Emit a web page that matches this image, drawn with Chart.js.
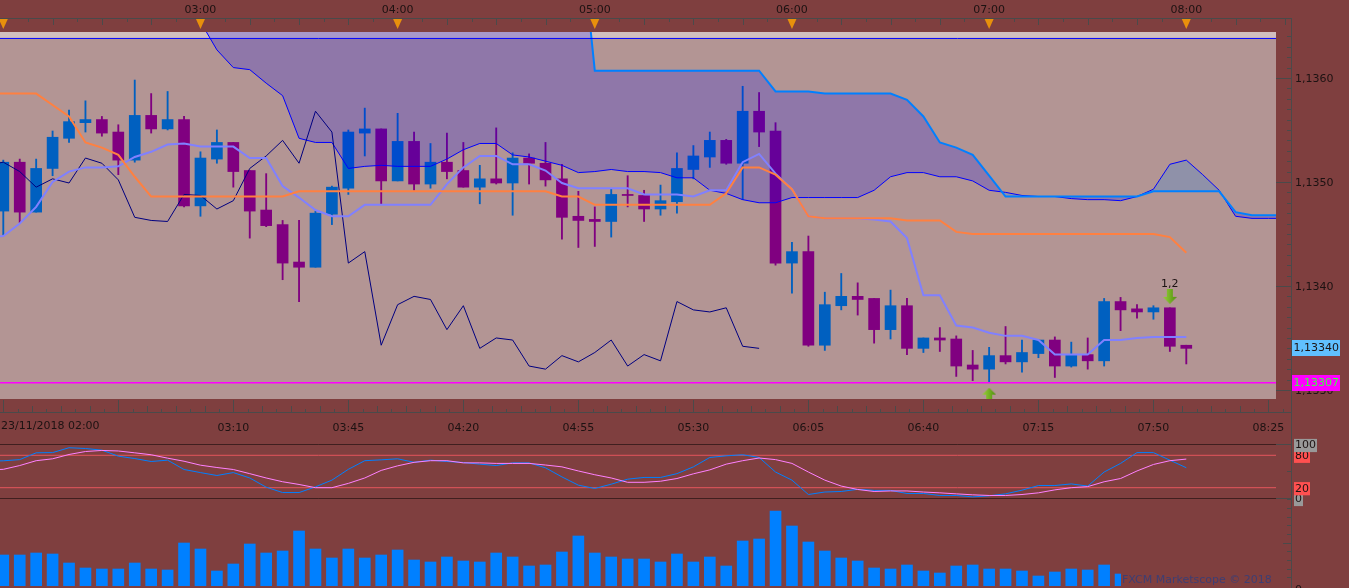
<!DOCTYPE html>
<html><head><meta charset="utf-8">
<style>
html,body{margin:0;padding:0;background:#7f3f3f;overflow:hidden;width:1349px;height:588px}
canvas{position:absolute;left:0;display:block}
</style>
<script src="https://cdn.jsdelivr.net/npm/chart.js@4"></script>
</head><body>
<canvas id="vol" width="1349" height="90" style="top:498px"></canvas>
<canvas id="main" width="1349" height="438" style="top:0"></canvas>
<canvas id="sto" width="1349" height="72" style="top:438px"></canvas>
<script>
const openPrice=[1.13472,1.13519,1.13471,1.13513,1.13542,1.13557,1.13560,1.13548,1.13521,1.13564,1.13551,1.13560,1.13477,1.13522,1.13538,1.13511,1.13473,1.13459,1.13423,1.13418,1.13469,1.13494,1.13547,1.13551,1.13501,1.13539,1.13498,1.13519,1.13511,1.13495,1.13503,1.13499,1.13523,1.13518,1.13503,1.13467,1.13464,1.13462,1.13488,1.13487,1.13474,1.13481,1.13512,1.13524,1.13540,1.13518,1.13568,1.13549,1.13422,1.13433,1.13343,1.13381,1.13390,1.13388,1.13358,1.13381,1.13340,1.13350,1.13349,1.13324,1.13320,1.13333,1.13327,1.13335,1.13348,1.13323,1.13334,1.13328,1.13385,1.13378,1.13375,1.13379,1.13343];
const highPrice=[1.13521,1.13522,1.13522,1.13549,1.13569,1.13578,1.13563,1.13555,1.13598,1.13585,1.13587,1.13563,1.13529,1.13550,1.13538,1.13511,1.13508,1.13463,1.13463,1.13472,1.13496,1.13550,1.13571,1.13551,1.13566,1.13548,1.13537,1.13547,1.13538,1.13516,1.13552,1.13528,1.13527,1.13538,1.13517,1.13491,1.13476,1.13493,1.13506,1.13492,1.13497,1.13528,1.13535,1.13548,1.13541,1.13592,1.13586,1.13557,1.13442,1.13448,1.13394,1.13412,1.13403,1.13388,1.13396,1.13388,1.13350,1.13360,1.13352,1.13338,1.13341,1.13361,1.13348,1.13348,1.13351,1.13346,1.13350,1.13388,1.13389,1.13382,1.13381,1.13379,1.13343];
const lowPrice=[1.13449,1.13461,1.13471,1.13506,1.13538,1.13548,1.13544,1.13507,1.13519,1.13547,1.13550,1.13476,1.13467,1.13518,1.13495,1.13446,1.13457,1.13406,1.13385,1.13418,1.13459,1.13488,1.13525,1.13479,1.13501,1.13492,1.13494,1.13503,1.13495,1.13479,1.13498,1.13468,1.13498,1.13496,1.13445,1.13437,1.13438,1.13447,1.13476,1.13462,1.13468,1.13470,1.13503,1.13514,1.13517,1.13483,1.13534,1.13420,1.13393,1.13342,1.13338,1.13377,1.13372,1.13345,1.13349,1.13334,1.13336,1.13337,1.13313,1.13309,1.13308,1.13325,1.13317,1.13331,1.13312,1.13322,1.13320,1.13323,1.13357,1.13369,1.13368,1.13337,1.13325];
const closePrice=[1.13519,1.13471,1.13513,1.13543,1.13558,1.13560,1.13547,1.13521,1.13564,1.13551,1.13560,1.13477,1.13523,1.13538,1.13510,1.13472,1.13458,1.13422,1.13418,1.13470,1.13495,1.13548,1.13551,1.13501,1.13539,1.13498,1.13519,1.13510,1.13495,1.13503,1.13499,1.13523,1.13518,1.13502,1.13466,1.13463,1.13462,1.13488,1.13487,1.13474,1.13482,1.13513,1.13525,1.13540,1.13518,1.13568,1.13548,1.13422,1.13433,1.13343,1.13382,1.13390,1.13387,1.13358,1.13381,1.13340,1.13350,1.13348,1.13323,1.13320,1.13333,1.13327,1.13336,1.13348,1.13323,1.13334,1.13328,1.13385,1.13377,1.13375,1.13379,1.13342,1.13340];
const lineStart=-1;
const kijun=[1.13585,1.13585,1.13585,1.13585,1.13574,1.13563,1.13538,1.13533,1.13526,1.13505,1.13486,1.13486,1.13486,1.13486,1.13486,1.13486,1.13486,1.13486,1.13486,1.13491,1.13491,1.13491,1.13491,1.13491,1.13491,1.13491,1.13491,1.13491,1.13491,1.13491,1.13491,1.13491,1.13491,1.13491,1.13491,1.13486,1.13486,1.13478,1.13478,1.13478,1.13478,1.13478,1.13478,1.13478,1.13478,1.13489,1.13514,1.13514,1.13507,1.13493,1.13467,1.13465,1.13465,1.13465,1.13465,1.13465,1.13463,1.13463,1.13463,1.13452,1.13450,1.13450,1.13450,1.13450,1.13450,1.13450,1.13450,1.13450,1.13450,1.13450,1.13450,1.13450,1.13447,1.13432];
const tenkan=[1.13447,1.13448,1.13460,1.13476,1.13500,1.13510,1.13514,1.13514,1.13515,1.13524,1.13529,1.13536,1.13537,1.13534,1.13534,1.13534,1.13523,1.13523,1.13496,1.13485,1.13473,1.13467,1.13467,1.13478,1.13478,1.13478,1.13478,1.13478,1.13498,1.13514,1.13525,1.13525,1.13517,1.13517,1.13511,1.13499,1.13494,1.13494,1.13494,1.13494,1.13488,1.13488,1.13488,1.13486,1.13492,1.13492,1.13519,1.13527,1.13508,1.13493,1.13467,1.13465,1.13465,1.13465,1.13464,1.13462,1.13446,1.13391,1.13391,1.13362,1.13360,1.13355,1.13352,1.13352,1.13348,1.13334,1.13334,1.13334,1.13348,1.13348,1.13350,1.13351,1.13351,1.13351];
const chikou=[1.13516,1.13519,1.13510,1.13495,1.13503,1.13499,1.13523,1.13518,1.13502,1.13466,1.13463,1.13462,1.13488,1.13487,1.13474,1.13482,1.13513,1.13525,1.13540,1.13518,1.13568,1.13548,1.13422,1.13433,1.13343,1.13382,1.13390,1.13387,1.13358,1.13381,1.13340,1.13350,1.13348,1.13323,1.13320,1.13333,1.13327,1.13336,1.13348,1.13323,1.13334,1.13328,1.13385,1.13377,1.13375,1.13379,1.13342,1.13340];
const senkouStart=12;
const senkouA=[1.13654,1.13627,1.13610,1.13608,1.13595,1.13583,1.13542,1.13538,1.13538,1.13513,1.13515,1.13516,1.13515,1.13515,1.13515,1.13522,1.13531,1.13537,1.13537,1.13526,1.13524,1.13520,1.13516,1.13509,1.13510,1.13512,1.13510,1.13510,1.13509,1.13504,1.13504,1.13492,1.13489,1.13483,1.13480,1.13480,1.13485,1.13485,1.13485,1.13485,1.13485,1.13492,1.13505,1.13509,1.13509,1.13505,1.13505,1.13501,1.13492,1.13490,1.13487,1.13486,1.13486,1.13484,1.13483,1.13483,1.13482,1.13486,1.13493,1.13517,1.13521,1.13507,1.13492,1.13467,1.13465,1.13465,1.13465];
const senkouB=[1.13761,1.13761,1.13761,1.13761,1.13761,1.13761,1.13761,1.13761,1.13761,1.13761,1.13761,1.13761,1.13761,1.13761,1.13761,1.13761,1.13761,1.13761,1.13761,1.13761,1.13761,1.13761,1.13761,1.13761,1.13607,1.13607,1.13607,1.13607,1.13607,1.13607,1.13607,1.13607,1.13607,1.13607,1.13607,1.13587,1.13587,1.13587,1.13585,1.13585,1.13585,1.13585,1.13585,1.13579,1.13563,1.13538,1.13533,1.13526,1.13506,1.13486,1.13486,1.13486,1.13486,1.13486,1.13486,1.13486,1.13486,1.13486,1.13491,1.13491,1.13491,1.13491,1.13491,1.13471,1.13468,1.13468,1.13468];
const stochK=[69,69.8,72,84.6,85,94,92.6,89.5,78.4,74,68.5,71,53.7,48,42.6,48,38,21,11,11,21.6,34,54,70,71.6,73.5,67,71,68.5,66.7,63.6,61,66,66,56.8,40,24.7,18.5,26.5,35.8,39,39,46,58.6,76,79,81,76,49,34,7.4,12,13,17,15,15,9.3,9.3,5.6,5.6,3,5,8.6,15.4,24,24,27,23,49,65,85,85,71,57];
const stochD=[53,54,61,70,73.5,81.5,87,89,88,84.6,81,74.7,69,61.7,57.4,53.7,46,38,31,26,20,20,28,38,52,60.5,67,70,70,66,66,65,65,65,62,58.6,51,44,38,30,30,32,37,45.7,53,63.6,70,75,72,65,49,34,23,16.7,13,14,14,12,10.5,8.6,6.8,5.6,5.6,7.4,10.5,16,20,22,31,37,51,63,70,73];
const volume=[93,93,99,96,69,54,51,51,69,51,48,129,111,45,66,126,99,105,165,111,84,111,84,93,108,78,72,87,75,72,99,87,60,63,102,150,99,87,81,81,72,96,72,87,60,135,141,225,180,132,105,84,75,54,51,63,45,39,60,63,51,51,45,30,42,51,48,63,36];
const hourTicks=[12,24,36,48,60,72];
const hourLabels=["03:00","04:00","05:00","06:00","07:00","08:00"];
const timeTicks=[14,21,28,35,42,49,56,63,70,77];
const timeLabels=["03:10","03:45","04:20","04:55","05:30","06:05","06:40","07:15","07:50","08:25"];
const firstLabel="23/11/2018 02:00";
const priceTicks=[1.133,1.134,1.135,1.136];
const stochTicks=[0,20,80,100];
const topLine=1.13638, levelLine=1.13307;
const downSignal={i:71,price:1.13390,label:"1,2",labelPrice:1.13402};
const upSignal={i:60,price:1.13295};
const watermark="FXCM Marketscope \u00a9 2018";

const FONT='"DejaVu Sans"';
Chart.defaults.font.family=FONT; Chart.defaults.font.size=11; Chart.defaults.color='#1c1212';
Chart.defaults.devicePixelRatio=1;
const BG='#7f3f3f',PLOT='#b39594',AXIS='#4a4a4a',TEXT='#1c1212';
const XMIN=-0.2009,XMAX=77.46;
const xy=(arr,start=0)=>arr.map((y,k)=>({x:k+start,y}));
const bars=(a,b)=>a.map((v,i)=>({x:i,y:[v,b[i]]}));
const upDown=openPrice.map((o,i)=>closePrice[i]>=o?'#0060c0':'#800080');
const hl=v=>[{x:-2,y:v},{x:80,y:v}];
const line=(o)=>Object.assign({type:'line',pointRadius:0,tension:0,fill:false,borderJoinStyle:'miter'},o);
const base={responsive:false,animation:false,events:[],plugins:{legend:{display:false},tooltip:{enabled:false}}};
const noGrid={display:false,drawTicks:false,offset:false};
const xHidden=()=>({type:'linear',offset:false,min:XMIN,max:XMAX,display:false});
const flat=s=>{s.paddingLeft=s.paddingRight=s.paddingTop=s.paddingBottom=0;};

function seg(c,x1,y1,x2,y2){c.beginPath();c.moveTo(x1,y1);c.lineTo(x2,y2);c.stroke();}
function px(v){return Math.round(v)+.5;}
function arrowCanvas(down){
  const cv=document.createElement('canvas');cv.width=14;cv.height=15;
  const c=cv.getContext('2d');
  const g=c.createLinearGradient(0,0,14,0);g.addColorStop(0,'#9ad23a');g.addColorStop(1,'#4f8f10');
  c.fillStyle=g;c.beginPath();
  if(down){c.moveTo(4,0);c.lineTo(10,0);c.lineTo(10,8);c.lineTo(14,8);c.lineTo(7,15);c.lineTo(0,8);c.lineTo(4,8);}
  else{c.moveTo(7,0);c.lineTo(14,7);c.lineTo(10,7);c.lineTo(10,15);c.lineTo(4,15);c.lineTo(4,7);c.lineTo(0,7);}
  c.closePath();c.fill();return cv;
}

const plotBg={id:'plotBg',beforeDatasetsDraw(ch){const a=ch.chartArea,c=ch.ctx;c.save();c.fillStyle=PLOT;c.fillRect(a.left,a.top,a.width,a.height);c.restore();}};

const mainChrome={id:'mainChrome',afterDraw(ch){
  const c=ch.ctx,top=ch.scales.xTop,bot=ch.scales.x,y=ch.scales.y;
  c.save();c.strokeStyle=AXIS;c.lineWidth=1;
  seg(c,0,18.5,1291,18.5);seg(c,0,412.5,1291,412.5);seg(c,1291.5,18,1291.5,438);
  for(let k=0;k<=52;k++){const x=px(top.getPixelForValue(k*1.5));seg(c,x,18,x,k%2?22:25);}
  for(let k=0;k<=89;k++){const x=px(bot.getPixelForValue(k*7/8));seg(c,x,412,x,k%8===0?400:(k%2?409:406));}
  for(let t=11330;t<=11364;t++){const v=t/10000;const yy=px(y.getPixelForValue(v));if(yy>399||yy<18)continue;seg(c,t%10===0?1276:1287,yy,1291,yy);}
  c.fillStyle='#e8900c';
  for(let h=0;h<=72;h+=12){const x=top.getPixelForValue(h);c.beginPath();c.moveTo(x-4.5,19);c.lineTo(x+4.5,19);c.lineTo(x,29);c.closePath();c.fill();}
  c.font='11px '+FONT;c.textBaseline='middle';c.textAlign='left';
  c.fillStyle=TEXT;c.fillText(firstLabel,1,426);
  c.textAlign='center';c.fillText(downSignal.label,bot.getPixelForValue(downSignal.i),y.getPixelForValue(downSignal.labelPrice));
  c.textAlign='left';
  const last=closePrice[closePrice.length-1];
  const tag=(v,bg,fg)=>{const yy=y.getPixelForValue(v);c.fillStyle=bg;c.fillRect(1292,Math.round(yy)-8,48,16);c.fillStyle=fg;c.fillText(v.toFixed(5).replace('.',','),1293.5,yy);};
  tag(last,'#60c0ff',TEXT);tag(levelLine,'#ff00ff','#40ff40');
  c.restore();
}};

new Chart(document.getElementById('main'),{
  data:{datasets:[
    line({label:'strip',data:hl(topLine),borderWidth:0,fill:'end',backgroundColor:'rgba(255,255,255,.4)',order:90}),
    {type:'bar',label:'wick',data:bars(lowPrice,highPrice),backgroundColor:upDown,barThickness:1.2,grouped:false,order:80},
    {type:'bar',label:'body',data:bars(openPrice,closePrice),backgroundColor:upDown,barThickness:11,grouped:false,order:70},
    line({label:'Senkou A',data:xy(senkouA,senkouStart),borderColor:'#0000ff',borderWidth:1,fill:{target:4,above:'rgba(0,128,255,.2)',below:'rgba(0,0,255,.2)'},order:60}),
    line({label:'Senkou B',data:xy(senkouB,senkouStart),borderColor:'#0080ff',borderWidth:2,order:55}),
    line({label:'top',data:hl(topLine),borderColor:'#0000ff',borderWidth:1,order:50}),
    line({label:'Chikou',data:xy(chikou,lineStart),borderColor:'#000080',borderWidth:1,order:40}),
    line({label:'Tenkan',data:xy(tenkan,lineStart),borderColor:'#8080ff',borderWidth:2,order:30}),
    line({label:'Kijun',data:xy(kijun,lineStart),borderColor:'#ff8040',borderWidth:2,order:20}),
    line({label:'level',data:hl(levelLine),borderColor:'#ff00ff',borderWidth:1.5,order:10}),
    line({label:'signals',showLine:false,data:[{x:downSignal.i,y:downSignal.price},{x:upSignal.i,y:upSignal.price}],pointRadius:8,pointStyle:[arrowCanvas(true),arrowCanvas(false)],order:5})
  ]},
  options:Object.assign({},base,{
    layout:{padding:0,autoPadding:false},
    scales:{
      x:{type:'linear',offset:false,position:'bottom',min:XMIN,max:XMAX,grid:noGrid,border:{display:false},
        afterFit(s){s.height=39;flat(s);},afterBuildTicks(s){s.ticks=timeTicks.map(v=>({value:v}));},
        ticks:{padding:23,autoSkip:false,maxRotation:0,color:TEXT,callback:v=>timeLabels[timeTicks.indexOf(v)]||''}},
      xTop:{type:'linear',offset:false,position:'top',axis:'x',min:XMIN,max:XMAX,grid:noGrid,border:{display:false},
        afterFit(s){s.height=32;flat(s);},afterBuildTicks(s){s.ticks=hourTicks.map(v=>({value:v}));},
        ticks:{padding:15,autoSkip:false,maxRotation:0,color:TEXT,callback:v=>hourLabels[hourTicks.indexOf(v)]||''}},
      y:{type:'linear',position:'right',min:1.132913,max:1.136442,grid:noGrid,border:{display:false},
        afterFit(s){s.width=73;flat(s);},afterBuildTicks(s){s.ticks=priceTicks.map(v=>({value:v}));},
        ticks:{padding:19,labelOffset:1,autoSkip:false,color:TEXT,callback:v=>v.toFixed(4).replace('.',',')}}
    }
  }),
  plugins:[plotBg,mainChrome]
});

const stoChrome={id:'stoChrome',afterDraw(ch){
  const c=ch.ctx,y=ch.scales.y;c.save();c.strokeStyle=AXIS;c.lineWidth=1;
  seg(c,1291.5,0,1291.5,72);
  [100,50,0].forEach(v=>{const yy=px(y.getPixelForValue(v)-.5);seg(c,v===50?1287:1276,yy,1291,yy);});
  c.restore();
}};
const stoColors={100:'#999999',80:'#ff5050',20:'#ff5050',0:'#999999'};
new Chart(document.getElementById('sto'),{
  data:{datasets:[
    line({label:'100',data:hl(100),borderColor:'#000000',borderWidth:1,order:9}),
    line({label:'0',data:hl(0),borderColor:'#000000',borderWidth:1,order:9}),
    line({label:'80',data:hl(80),borderColor:'#e4555c',borderWidth:1,order:8}),
    line({label:'20',data:hl(20),borderColor:'#e4555c',borderWidth:1,order:8}),
    line({label:'%K',data:xy(stochK,lineStart),borderColor:'#0080ff',borderWidth:1,order:5}),
    line({label:'%D',data:xy(stochD,lineStart),borderColor:'#ff80ff',borderWidth:1,order:4})
  ]},
  options:Object.assign({},base,{
    layout:{padding:{top:6.5,bottom:11.5},autoPadding:false},
    scales:{
      x:xHidden(),
      y:{type:'linear',position:'right',min:0,max:100,grid:noGrid,border:{display:false},
        afterFit(s){s.width=73;flat(s);},afterBuildTicks(s){s.ticks=stochTicks.map(v=>({value:v}));},
        ticks:{padding:19,labelOffset:1,autoSkip:false,color:TEXT,showLabelBackdrop:true,backdropPadding:{left:1,right:1,top:0,bottom:0},
          backdropColor:ctx=>stoColors[ctx.tick.value],callback:v=>String(v)}}
    }
  }),
  plugins:[stoChrome]
});

const volChrome={id:'volChrome',afterDraw(ch){
  const c=ch.ctx,y=ch.scales.y;c.save();c.strokeStyle=AXIS;c.lineWidth=1;
  seg(c,1291.5,0,1291.5,90);
  for(let v=26;v<=260;v+=26){const yy=px(y.getPixelForValue(v));seg(c,v===130?1283:1287,yy,1291,yy);}
  c.fillStyle=BG;c.fillRect(1121,74,156,16);
  c.fillStyle='#3e3e73';c.font='11px '+FONT;c.textBaseline='middle';c.textAlign='left';
  c.fillText(watermark,1122,82);
  c.fillStyle=TEXT;c.fillText('0',1295,92);
  c.restore();
}};
new Chart(document.getElementById('vol'),{
  data:{datasets:[{type:'bar',label:'Volume',data:xy(volume),backgroundColor:'#0080ff',barThickness:11,grouped:false}]},
  options:Object.assign({},base,{
    layout:{padding:{right:73,bottom:2},autoPadding:false},
    scales:{x:xHidden(),y:{type:'linear',min:0,max:264,display:false}}
  }),
  plugins:[volChrome]
});
</script>
</body></html>
